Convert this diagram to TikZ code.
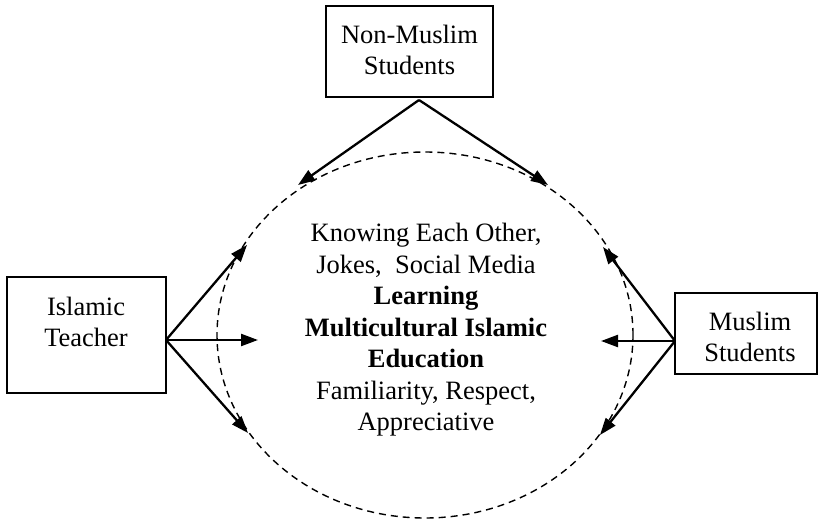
\documentclass[tikz,border=0pt]{standalone}
\usepackage{fontspec}
\setmainfont{Liberation Serif}
\usetikzlibrary{arrows.meta}
\begin{document}
\begin{tikzpicture}[x=1pt,y=-1pt,
  box/.style={draw, line width=1.5pt, inner sep=0pt},
  txt/.style={align=center, inner sep=0pt, font=\fontsize{26.5pt}{31.5pt}\selectfont},
  arr/.style={line width=2.3pt, -{Triangle[length=17pt,width=12pt]}}]
\useasboundingbox (0,0) rectangle (818,521);
% dashed ellipse
\draw[line width=1.4pt, dash pattern=on 7pt off 5pt] (425,335) ellipse [x radius=208pt, y radius=183pt];
% boxes
\node[box, minimum width=167pt, minimum height=91pt] (nmbox) at (409.5,51.5) {};
\node[txt] (nmtext) at (409.5,50) {Non-Muslim\\Students};
\node[box, minimum width=159pt, minimum height=116pt] (tbox) at (86.5,335) {};
\node[txt] (ttext) at (86,322) {Islamic\\Teacher};
\node[box, minimum width=142pt, minimum height=81pt] (mbox) at (746,333.5) {};
\node[txt] (mtext) at (750,337) {Muslim\\Students};
% centre text
\node[txt] (centre) at (426,330) {Knowing Each Other,\\Jokes,\ \ Social Media\\\textbf{Learning}\\\textbf{Multicultural Islamic}\\\textbf{Education}\\Familiarity, Respect,\\Appreciative};
% connector points
\coordinate (apex) at (419,100);
\coordinate (nml) at (298,185);
\coordinate (nmr) at (548,185);
\coordinate (torig) at (166,340);
\coordinate (tu) at (247,245);
\coordinate (tm) at (258,340);
\coordinate (td) at (248,433);
\coordinate (morig) at (675,341);
\coordinate (mu) at (603,247);
\coordinate (mm) at (601,341);
\coordinate (md) at (600,435);
% arrows
\draw[arr] (apex) -- (nml);
\draw[arr] (apex) -- (nmr);
\draw[arr] (torig) -- (tu);
\draw[arr] (torig) -- (tm);
\draw[arr] (torig) -- (td);
\draw[arr] (morig) -- (mu);
\draw[arr] (morig) -- (mm);
\draw[arr] (morig) -- (md);
\end{tikzpicture}
\end{document}
